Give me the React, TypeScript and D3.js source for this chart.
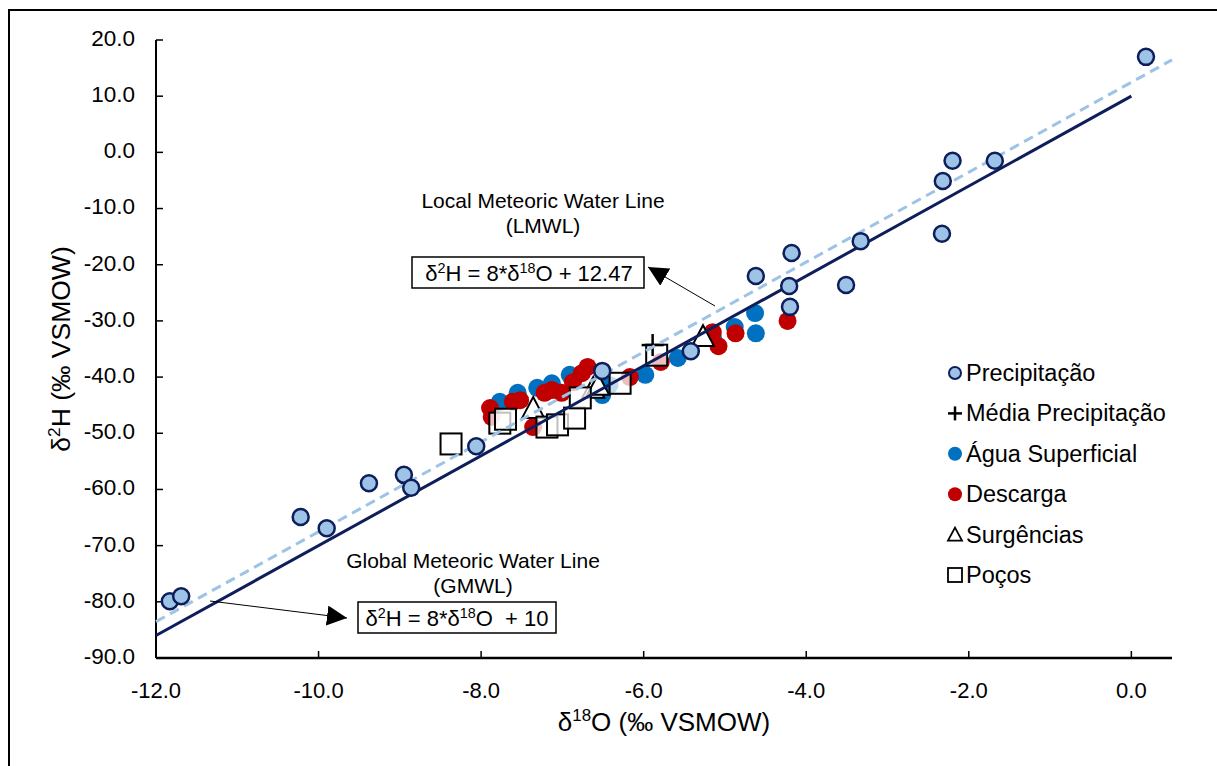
import * as d3 from "d3";

const WIDTH = 1217;
const HEIGHT = 766;
const MARGIN = { top: 40, right: 45, bottom: 108, left: 156 };

// [δ18O, δ2H]
const precipitacao: [number, number][] = [
  [0.18, 17.0], [-2.2, -1.5], [-2.32, -5.1], [-1.68, -1.5], [-2.33, -14.5],
  [-3.33, -15.8], [-4.18, -17.9], [-4.62, -22.0], [-4.21, -23.8], [-3.51, -23.6],
  [-4.2, -27.5], [-5.42, -35.4], [-6.51, -38.9], [-8.06, -52.3], [-8.95, -57.4],
  [-8.86, -59.7], [-9.38, -58.9], [-10.22, -64.9], [-9.9, -66.9], [-11.83, -79.9],
  [-11.69, -79.0],
];
const mediaPrecipitacao: [number, number][] = [[-5.89, -34.3]];
const aguaSuperficial: [number, number][] = [
  [-7.77, -44.4], [-7.55, -42.8], [-7.31, -41.9], [-7.13, -41.1], [-6.91, -39.6],
  [-6.51, -43.2], [-6.42, -41.4], [-5.98, -39.6], [-5.58, -36.6], [-5.15, -32.9],
  [-4.88, -31.1], [-4.62, -32.2], [-4.63, -28.6],
];
const descarga: [number, number][] = [
  [-7.89, -45.5], [-7.87, -47.1], [-7.61, -44.4], [-7.52, -44.1], [-7.36, -48.9],
  [-7.22, -42.8], [-7.13, -42.3], [-7.01, -42.8], [-6.87, -40.9], [-6.76, -39.3],
  [-6.69, -38.2], [-6.17, -40.0], [-5.79, -37.3], [-5.15, -32.0], [-5.08, -34.5],
  [-4.87, -32.2], [-4.23, -30.0],
];
const surgencias: [number, number][] = [
  [-7.36, -45.5], [-6.62, -41.9], [-6.56, -41.4], [-5.27, -32.7],
];
const pocos: [number, number][] = [
  [-8.37, -51.9], [-7.77, -48.2], [-7.7, -47.5], [-7.19, -48.9], [-7.06, -48.5],
  [-6.85, -47.3], [-6.78, -43.7], [-6.29, -41.1], [-5.84, -36.1],
];

const xTicks = [-12, -10, -8, -6, -4, -2, 0];
const yTicks = [20, 10, 0, -10, -20, -30, -40, -50, -60, -70, -80, -90];

// meteoric water lines: slope, intercept, x-range
const GMWL = { slope: 8, intercept: 10, from: -12, to: 0 };
const LMWL = { slope: 8, intercept: 12.47, from: -12, to: 0.5 };

const legendItems = [
  "Precipitação",
  "Média Precipitação",
  "Água Superficial",
  "Descarga",
  "Surgências",
  "Poços",
];

const NAVY = "#0e1e5b";
const LIGHT = "#9dc3e6";
const BLUE = "#0070c0";
const RED = "#c00000";
const FONT = "'Liberation Sans', Arial, sans-serif";

const fmt = (v: number) => v.toFixed(1);

// superscript helpers (raise, then drop back)
const Sup = ({ children, size }: { children: string; size: number }) => (
  <tspan fontSize={size * 0.65} dy={-size * 0.38}>
    {children}
  </tspan>
);
const Down = ({ children, size }: { children: string; size: number }) => (
  <tspan dy={size * 0.38}>{children}</tspan>
);

const Triangle = ({ x, y, s }: { x: number; y: number; s: number }) => {
  const h = s * 0.9;
  return (
    <path
      d={`M${x},${y - h / 2 - 1}L${x + s / 2},${y + h / 2}L${x - s / 2},${y + h / 2}Z`}
      fill="#fff"
      stroke="#000"
      strokeWidth={2}
    />
  );
};

export default function App() {
  const xScale = d3
    .scaleLinear()
    .domain([-12, 0.5])
    .range([MARGIN.left, WIDTH - MARGIN.right]);
  const yScale = d3
    .scaleLinear()
    .domain([-90, 20])
    .range([HEIGHT - MARGIN.bottom, MARGIN.top]);

  const x0 = MARGIN.left;
  const y0 = HEIGHT - MARGIN.bottom;
  const xMid = (MARGIN.left + WIDTH - MARGIN.right) / 2;
  const yMid = (MARGIN.top + y0) / 2;

  const mwlPath = (m: typeof GMWL) =>
    d3
      .line<number>()
      .x((d) => xScale(d))
      .y((d) => yScale(m.slope * d + m.intercept))([m.from, m.to]) ?? "";

  const legendX = 955;
  const legendY0 = 373;
  const legendStep = 40.4;

  return (
    <svg
      width={WIDTH}
      height={HEIGHT}
      style={{ position: "absolute", left: 0, top: 0, background: "#fff" }}
      fontFamily={FONT}
    >
      <defs>
        <marker
          id="arrow"
          viewBox="0 0 10 10"
          refX={10}
          refY={5}
          markerWidth={20}
          markerHeight={20}
          markerUnits="userSpaceOnUse"
          orient="auto"
        >
          <path d="M0,0L10,5L0,10Z" fill="#000" />
        </marker>
      </defs>
      <rect x={9} y={10} width={1230} height={780} fill="#fff" stroke="#000" strokeWidth={2} />

      {/* axes */}
      <line x1={x0} x2={x0} y1={MARGIN.top} y2={y0} stroke="#000" strokeWidth={2} />
      <line x1={x0} x2={WIDTH - MARGIN.right} y1={y0} y2={y0} stroke="#000" strokeWidth={2.5} />
      {yTicks.map((t) => (
        <g key={t}>
          <line x1={x0} x2={x0 + 7} y1={yScale(t)} y2={yScale(t)} stroke="#000" strokeWidth={1.5} />
          <text x={x0 - 21} y={yScale(t)} textAnchor="end" dominantBaseline="middle" fontSize={22.5}>
            {fmt(t)}
          </text>
        </g>
      ))}
      {xTicks.map((t) => (
        <g key={t}>
          <line x1={xScale(t)} x2={xScale(t)} y1={y0} y2={y0 - 7} stroke="#000" strokeWidth={1.5} />
          <text x={xScale(t)} y={y0 + 40} textAnchor="middle" fontSize={22}>
            {fmt(t)}
          </text>
        </g>
      ))}

      {/* axis titles */}
      <text x={xMid} y={731} textAnchor="middle" fontSize={26}>
        δ<Sup size={26}>18</Sup>
        <Down size={26}>O (‰ VSMOW)</Down>
      </text>
      <text transform={`translate(70,${yMid}) rotate(-90)`} textAnchor="middle" fontSize={26.5}>
        δ<Sup size={26.5}>2</Sup>
        <Down size={26.5}>H (‰ VSMOW)</Down>
      </text>

      {/* data */}
      {aguaSuperficial.map((d, i) => (
        <circle key={"a" + i} cx={xScale(d[0])} cy={yScale(d[1])} r={9} fill={BLUE} />
      ))}
      {descarga.map((d, i) => (
        <circle key={"d" + i} cx={xScale(d[0])} cy={yScale(d[1])} r={9} fill={RED} />
      ))}
      {surgencias.map((d, i) => (
        <Triangle key={"s" + i} x={xScale(d[0])} y={yScale(d[1])} s={22} />
      ))}
      {pocos.map((d, i) => (
        <rect
          key={"p" + i}
          x={xScale(d[0]) - 10.5}
          y={yScale(d[1]) - 10.5}
          width={21}
          height={21}
          fill="rgba(255,255,255,0.75)"
          stroke="#000"
          strokeWidth={2}
        />
      ))}
      {mediaPrecipitacao.map((d, i) => (
        <g key={"m" + i} stroke="#000" strokeWidth={2.5}>
          <line x1={xScale(d[0]) - 11} x2={xScale(d[0]) + 11} y1={yScale(d[1])} y2={yScale(d[1])} />
          <line x1={xScale(d[0])} x2={xScale(d[0])} y1={yScale(d[1]) - 11} y2={yScale(d[1]) + 11} />
        </g>
      ))}

      <path d={mwlPath(GMWL)} stroke={NAVY} strokeWidth={3} fill="none" />
      <path d={mwlPath(LMWL)} stroke={LIGHT} strokeWidth={3} strokeDasharray="10,6" fill="none" />

      {precipitacao.map((d, i) => (
        <circle
          key={"pr" + i}
          cx={xScale(d[0])}
          cy={yScale(d[1])}
          r={8}
          fill={LIGHT}
          stroke={NAVY}
          strokeWidth={2.5}
        />
      ))}

      {/* annotations */}
      <text x={543} y={208} textAnchor="middle" fontSize={21}>
        Local Meteoric Water Line
      </text>
      <text x={543} y={233} textAnchor="middle" fontSize={21}>
        (LMWL)
      </text>
      <rect x={412} y={257} width={232} height={31} fill="#fff" stroke="#000" strokeWidth={1.5} />
      <text x={529} y={281} textAnchor="middle" fontSize={22}>
        δ<Sup size={22}>2</Sup>
        <Down size={22}>H = 8*δ</Down>
        <Sup size={22}>18</Sup>
        <Down size={22}>O + 12.47</Down>
      </text>
      <line x1={715} y1={306} x2={648} y2={267} stroke="#000" strokeWidth={1} markerEnd="url(#arrow)" />

      <text x={473} y={568} textAnchor="middle" fontSize={21}>
        Global Meteoric Water Line
      </text>
      <text x={473} y={593} textAnchor="middle" fontSize={21}>
        (GMWL)
      </text>
      <rect x={358} y={602} width={198} height={31} fill="#fff" stroke="#000" strokeWidth={1.5} />
      <text x={457} y={626} textAnchor="middle" fontSize={22} style={{ whiteSpace: "pre" }}>
        δ<Sup size={22}>2</Sup>
        <Down size={22}>H = 8*δ</Down>
        <Sup size={22}>18</Sup>
        <Down size={22}>{"O  + 10"}</Down>
      </text>
      <line x1={210} y1={601} x2={347} y2={618} stroke="#000" strokeWidth={1} markerEnd="url(#arrow)" />

      {/* legend */}
      {legendItems.map((name, i) => {
        const ly = legendY0 + i * legendStep;
        let marker;
        if (i === 0)
          marker = <circle cx={legendX} cy={ly} r={6} fill={LIGHT} stroke={NAVY} strokeWidth={2} />;
        else if (i === 1)
          marker = (
            <g stroke="#000" strokeWidth={2.5}>
              <line x1={legendX - 7} x2={legendX + 7} y1={ly} y2={ly} />
              <line x1={legendX} x2={legendX} y1={ly - 7} y2={ly + 7} />
            </g>
          );
        else if (i === 2) marker = <circle cx={legendX} cy={ly} r={7} fill={BLUE} />;
        else if (i === 3) marker = <circle cx={legendX} cy={ly} r={7} fill={RED} />;
        else if (i === 4)
          marker = (
            <path
              d={`M${legendX},${ly - 7}L${legendX + 7},${ly + 6}L${legendX - 7},${ly + 6}Z`}
              fill="#fff"
              stroke="#000"
              strokeWidth={1.8}
            />
          );
        else
          marker = (
            <rect x={legendX - 7} y={ly - 7} width={14} height={14} fill="#fff" stroke="#000" strokeWidth={1.8} />
          );
        return (
          <g key={name}>
            {marker}
            <text x={legendX + 11} y={ly} dominantBaseline="central" fontSize={23.5}>
              {name}
            </text>
          </g>
        );
      })}
    </svg>
  );
}
